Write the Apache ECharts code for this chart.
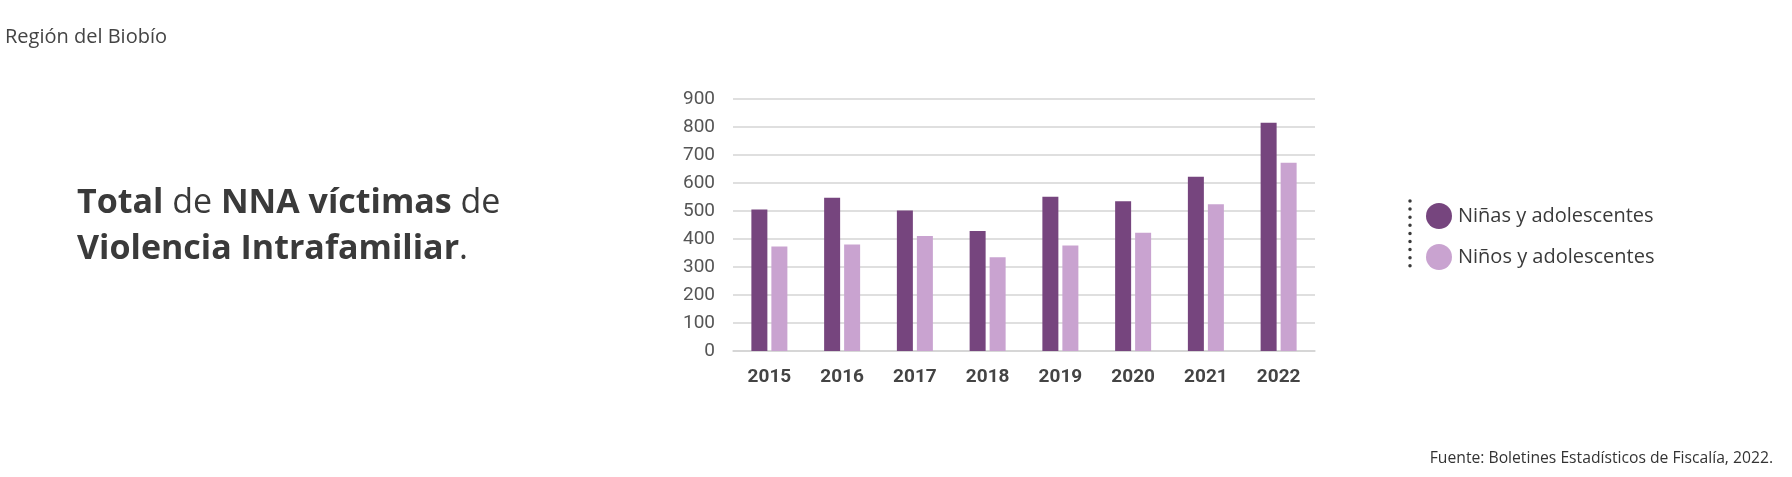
<!DOCTYPE html>
<html>
<head>
<meta charset="utf-8">
<script src="https://cdn.jsdelivr.net/npm/echarts@6/dist/echarts.min.js"></script>
<style>
html,body{margin:0;padding:0;background:#fff;}
#c{width:1792px;height:477px;}
</style>
</head>
<body>
<div id="c"></div>
<script>
const years = ['2015','2016','2017','2018','2019','2020','2021','2022'];
const ninas = [505, 547, 502, 429, 551, 535, 622, 815];
const ninos = [373, 380, 411, 335, 377, 422, 524, 672];
const seriesNames = ['Niñas y adolescentes', 'Niños y adolescentes'];
const yTicks = {min: 0, max: 900, interval: 100};

const chart = echarts.init(document.getElementById('c'));
const option = {
  backgroundColor: '#fff',
  animation: false,
  grid: {left: 733, right: 477, top: 99, bottom: 126},
  legend: {
    orient: 'vertical',
    left: 1421, top: 198,
    icon: 'circle',
    itemWidth: 26, itemHeight: 26,
    itemGap: 15,
    textStyle: {fontFamily: 'Open Sans', fontSize: 20, color: '#3a3a3a', padding: [0,0,0,1]},
    data: seriesNames
  },
  xAxis: {
    type: 'category',
    data: years,
    axisTick: {show: false},
    axisLine: {show: true, lineStyle: {color: '#d4d4d4', width: 1.5}},
    axisLabel: {margin: 17, fontFamily: 'Roboto', fontWeight: 'bold', fontSize: 19, color: '#444'}
  },
  yAxis: {
    type: 'value',
    min: yTicks.min, max: yTicks.max, interval: yTicks.interval,
    axisLine: {show: false},
    axisTick: {show: false},
    splitLine: {lineStyle: {color: '#d4d4d4', width: 1.5}},
    axisLabel: {margin: 18, fontFamily: 'Roboto', fontSize: 19, color: '#555'}
  },
  series: [
    {name: seriesNames[0], type: 'bar', data: ninas, barWidth: 16, barGap: '25%', itemStyle: {color: '#76457e'}},
    {name: seriesNames[1], type: 'bar', data: ninos, barWidth: 16, itemStyle: {color: '#c9a3d0'}}
  ],
  graphic: [
    {type: 'text', left: 5, top: 27, style: {text: 'Región del Biobío', fontFamily: 'Open Sans', fontSize: 20, fill: '#444'}},
    {type: 'text', left: 77, top: 180, style: {
      text: '{b|Total}{n| de }{b|NNA víctimas}{n| de}\n{b|Violencia Intrafamiliar}{n|.}',
      lineHeight: 46,
      rich: {
        b: {fontFamily: 'Open Sans', fontWeight: 'bold', fontSize: 34, fill: '#3a3a3a', lineHeight: 46},
        n: {fontFamily: 'Open Sans', fontSize: 34, fill: '#3a3a3a', lineHeight: 46}
      }
    }},
    {type: 'line', shape: {x1: 1410, y1: 201, x2: 1410, y2: 266}, style: {stroke: '#3a3a3a', lineWidth: 3.5, lineDash: [0, 8.1], lineCap: 'round'}},
    {type: 'text', right: 19, top: 451, style: {text: 'Fuente: Boletines Estadísticos de Fiscalía, 2022.', fontFamily: 'Open Sans', fontSize: 15.7, fill: '#333'}}
  ]
};
chart.setOption(option);
</script>
</body>
</html>
